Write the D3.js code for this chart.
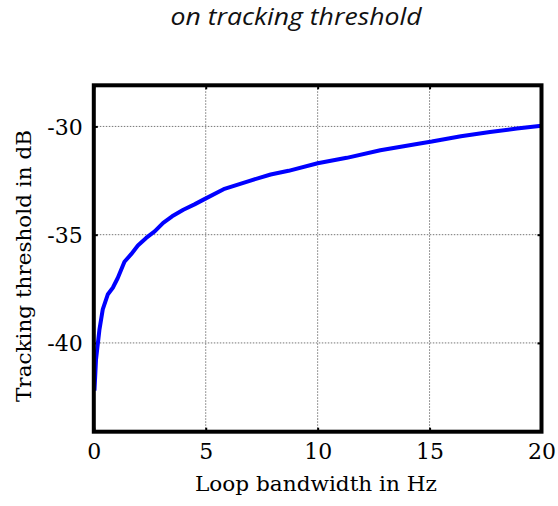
<!DOCTYPE html>
<html>
<head>
<meta charset="utf-8">
<script src="https://cdn.jsdelivr.net/npm/d3@7"></script>
<style>
  html, body { margin: 0; padding: 0; background: #fff; }
  svg { display: block; }
</style>
</head>
<body>
<svg id="chart" width="558" height="506"></svg>
<script>
// ---- data ----
const bandwidthHz = [0.03, 0.1, 0.25, 0.4, 0.63, 0.85, 1.07, 1.37, 1.67, 1.97, 2.34, 2.72, 3.1, 3.5, 4.0, 4.5, 4.9, 5.8, 7.0, 7.9, 8.7, 10.0, 11.3, 12.8, 14.5, 15.1, 16.4, 17.7, 18.9, 20.0];
const thresholdDb = [-42.2, -40.75, -39.4, -38.45, -37.75, -37.45, -37.0, -36.25, -35.9, -35.5, -35.15, -34.85, -34.45, -34.15, -33.85, -33.6, -33.38, -32.9, -32.5, -32.22, -32.05, -31.7, -31.45, -31.1, -30.8, -30.7, -30.45, -30.26, -30.1, -29.97];
const xTicks = [0, 5, 10, 15, 20];
const yTicks = [-40, -35, -30];
const xDomain = [0, 20];
const yDomain = [-44.1, -28.1];
const titleText = "on tracking threshold";
const xLabel = "Loop bandwidth in Hz";
const yLabel = "Tracking threshold in dB";

const svg = d3.select("#chart");
const L = 93.8, R = 541.5, T = 85.3, B = 431.7;
const serif = "'DejaVu Serif', serif";

const x = d3.scaleLinear().domain(xDomain).range([L, R]);
const y = d3.scaleLinear().domain(yDomain).range([B, T]);

// title
svg.append("text")
  .attr("x", 296).attr("y", 25)
  .attr("text-anchor", "middle")
  .attr("font-family", "'Open Sans', sans-serif")
  .attr("font-style", "italic")
  .attr("font-size", 24)
  .attr("textLength", 251)
  .attr("lengthAdjust", "spacingAndGlyphs")
  .attr("fill", "#111")
  .text(titleText);

// grid
const grid = svg.append("g").attr("stroke", "#777").attr("stroke-width", 1).attr("stroke-dasharray", "1.5,1.5");
grid.selectAll("line.gx").data(xTicks.filter(d => d > xDomain[0] && d < xDomain[1])).join("line")
  .attr("x1", d => x(d)).attr("x2", d => x(d)).attr("y1", T).attr("y2", B);
grid.selectAll("line.gy").data(yTicks).join("line")
  .attr("y1", d => y(d)).attr("y2", d => y(d)).attr("x1", L).attr("x2", R);

// axes (inward ticks, MATLAB style)
const tickLen = 4;
const fmt = d => String(d);
const axB = svg.append("g").attr("transform", `translate(0,${B})`)
  .call(d3.axisBottom(x).tickValues(xTicks).tickFormat(fmt).tickSizeInner(-tickLen).tickSizeOuter(0).tickPadding(12));
const axT = svg.append("g").attr("transform", `translate(0,${T})`)
  .call(d3.axisTop(x).tickValues(xTicks).tickSizeInner(-tickLen).tickSizeOuter(0).tickFormat(""));
const axL = svg.append("g").attr("transform", `translate(${L},0)`)
  .call(d3.axisLeft(y).tickValues(yTicks).tickFormat(fmt).tickSizeInner(-tickLen).tickSizeOuter(0).tickPadding(11));
const axR = svg.append("g").attr("transform", `translate(${R},0)`)
  .call(d3.axisRight(y).tickValues(yTicks).tickSizeInner(-tickLen).tickSizeOuter(0).tickFormat(""));
[axB, axT, axL, axR].forEach(a => {
  a.select(".domain").remove();
  a.selectAll(".tick line").attr("stroke", "#000").attr("stroke-width", 2);
  a.selectAll("text").attr("font-family", serif).attr("font-size", 22).attr("fill", "#000");
});
axB.selectAll(".tick text").attr("dy", "0.71em");
axL.selectAll(".tick text").attr("dy", "0.36em");

// curve
const line = d3.line().x((d, i) => x(bandwidthHz[i])).y(d => y(d));
svg.append("path")
  .datum(thresholdDb)
  .attr("d", line)
  .attr("fill", "none")
  .attr("stroke", "#0000ff")
  .attr("stroke-width", 4)
  .attr("stroke-linejoin", "round");

// frame
svg.append("rect")
  .attr("x", L).attr("y", T).attr("width", R - L).attr("height", B - T)
  .attr("fill", "none").attr("stroke", "#000").attr("stroke-width", 4);

// axis labels
svg.append("text")
  .attr("x", 316).attr("y", 491)
  .attr("text-anchor", "middle")
  .attr("font-family", serif)
  .attr("font-size", 20)
  .attr("textLength", 242)
  .attr("lengthAdjust", "spacingAndGlyphs")
  .attr("fill", "#000")
  .text(xLabel);
svg.append("text")
  .attr("transform", `translate(31,266) rotate(-90)`)
  .attr("text-anchor", "middle")
  .attr("font-family", serif)
  .attr("font-size", 20)
  .attr("textLength", 272)
  .attr("lengthAdjust", "spacingAndGlyphs")
  .attr("fill", "#000")
  .text(yLabel);
</script>
</body>
</html>
